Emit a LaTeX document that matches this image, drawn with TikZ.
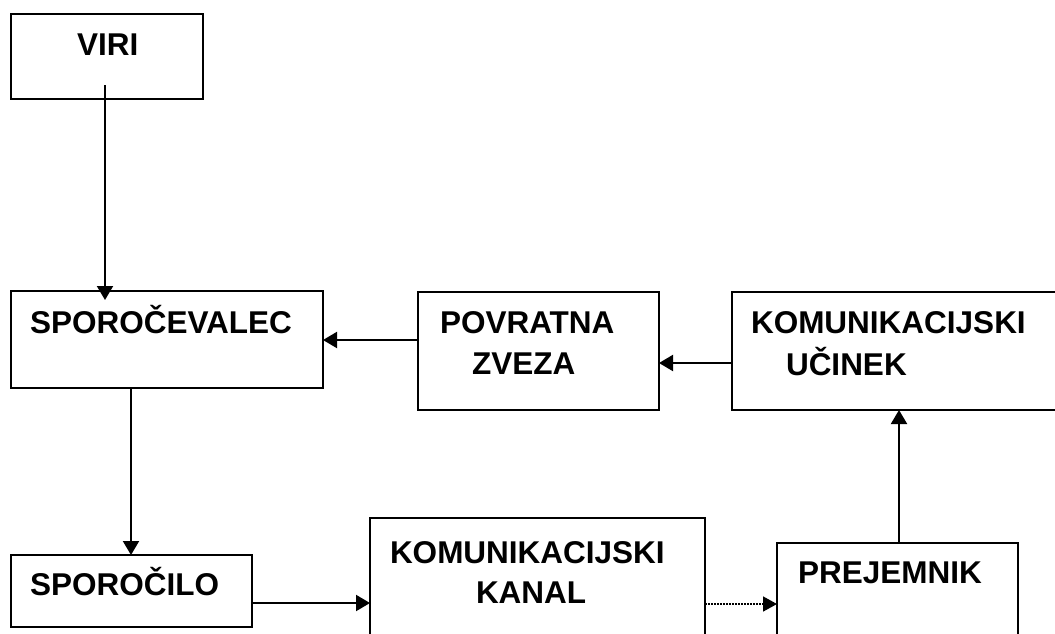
\documentclass[tikz,border=0pt]{standalone}
\usepackage{fontspec}
\setmainfont{Liberation Sans}
\usetikzlibrary{arrows.meta}
\tikzset{
  box/.style={draw, line width=2pt, inner sep=0pt, outer sep=0pt, anchor=north west},
  lbl/.style={inner sep=0pt, outer sep=0pt, anchor=base west, font=\fontsize{31.5}{36}\selectfont\bfseries},
  arr/.style={line width=2pt, -{Triangle[length=14pt,width=16pt]}},
  dotarr/.style={line width=1.6pt, dash pattern=on 1.5pt off 1.5pt, -{Triangle[length=14pt,width=15pt]}}
}
\begin{document}
\begin{tikzpicture}[x=1pt,y=-1pt]
\useasboundingbox (0,0) rectangle (1055,633);
\clip (0,0) rectangle (1055,633);
\fill[white] (0,0) rectangle (1055,633);
% boxes
\node[box, minimum width=192pt, minimum height=85pt] (viri) at (11,14) {};
\node[box, minimum width=312pt, minimum height=97pt] (sporoc) at (11,291) {};
\node[box, minimum width=241pt, minimum height=118pt] (povratna) at (418,292) {};
\node[box, minimum width=400pt, minimum height=118pt] (ucinek) at (732,292) {};
\node[box, minimum width=241pt, minimum height=72pt] (sporocilo) at (11,555) {};
\node[box, minimum width=335pt, minimum height=200pt] (kanal) at (370,518) {};
\node[box, minimum width=241pt, minimum height=200pt] (prejemnik) at (777,543) {};
% labels
\node[lbl] (tviri) at (77,55) {VIRI};
\node[lbl] (tsporoc) at (30,333) {SPOROČEVALEC};
\node[lbl] (tpov1) at (440,333) {POVRATNA};
\node[lbl] (tpov2) at (472,374) {ZVEZA};
\node[lbl] (tuc1) at (751,333) {KOMUNIKACIJSKI};
\node[lbl] (tuc2) at (786,375) {UČINEK};
\node[lbl] (tsporocilo) at (30,595) {SPOROČILO};
\node[lbl] (tkan1) at (390,563) {KOMUNIKACIJSKI};
\node[lbl] (tkan2) at (476,603) {KANAL};
\node[lbl] (tprej) at (798,583) {PREJEMNIK};
% connectors
\coordinate (v1) at (105,85);
\coordinate (v2) at (v1 |- sporoc.north);
\draw[arr] (v1) -- ([yshift=-9pt]v2);
\coordinate (s1) at (131,0);
\draw[arr] (s1 |- sporoc.south) -- (s1 |- sporocilo.north);
\coordinate (h1) at (0,603);
\draw[arr] (h1 -| sporocilo.east) -- (h1 -| kanal.west);
\coordinate (h2) at (0,604);
\draw[dotarr] (h2 -| kanal.east) -- (h2 -| prejemnik.west);
\coordinate (p1) at (899,0);
\draw[arr] (p1 |- prejemnik.north) -- (p1 |- ucinek.south);
\coordinate (h3) at (0,363);
\draw[arr] (h3 -| ucinek.west) -- (h3 -| povratna.east);
\coordinate (h4) at (0,340);
\draw[arr] (h4 -| povratna.west) -- (h4 -| sporoc.east);
\end{tikzpicture}
\end{document}
